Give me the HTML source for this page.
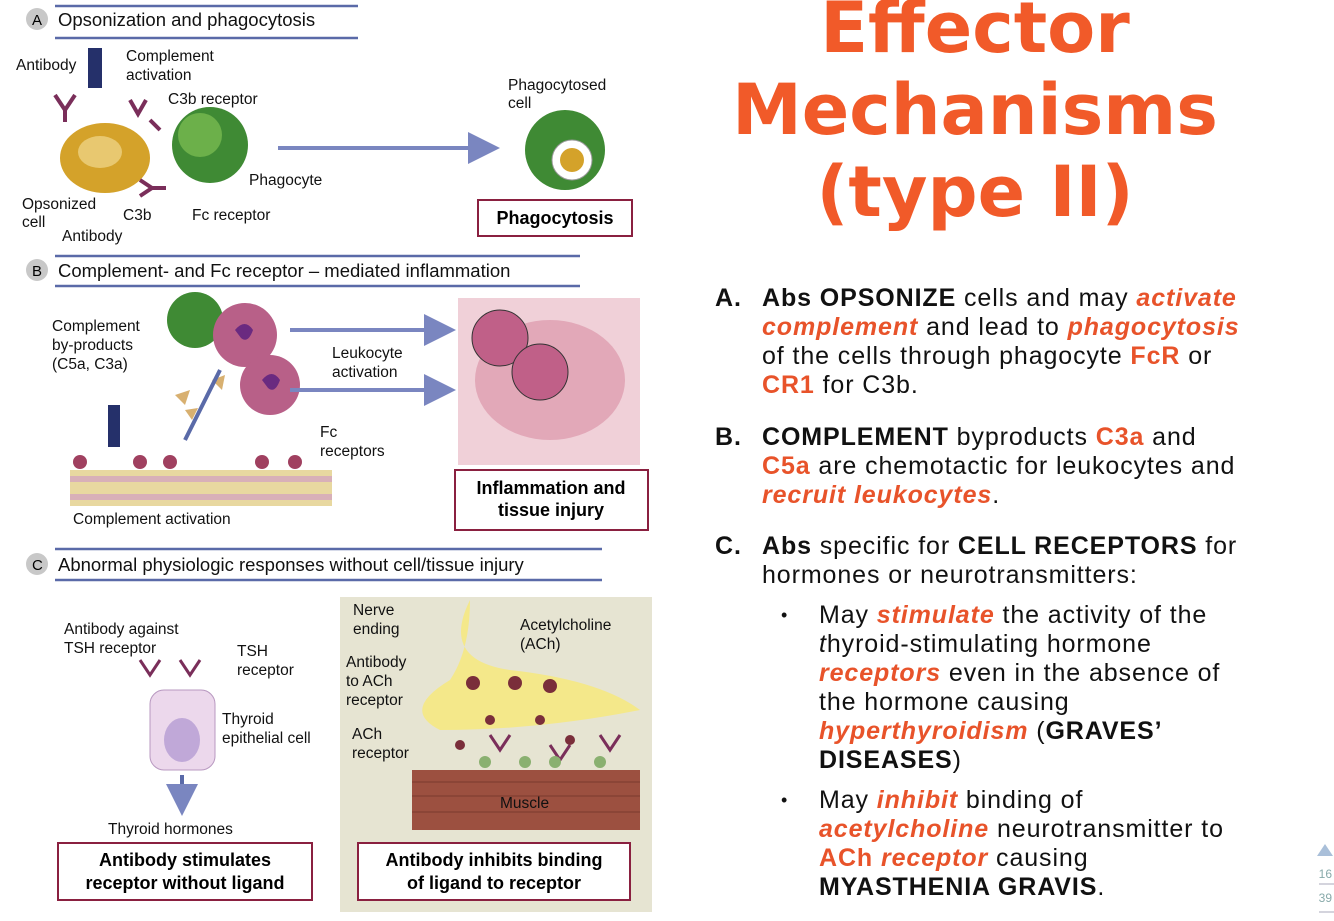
<!DOCTYPE html>
<html><head><meta charset="utf-8"><style>
body{margin:0;width:1334px;height:921px;background:#fff;position:relative;overflow:hidden;font-family:"Liberation Sans",sans-serif}
.title{position:absolute;left:700px;width:550px;text-align:center;color:#f15a29;font-family:"DejaVu Sans","Liberation Sans",sans-serif;font-weight:bold;font-size:70px;line-height:82px;top:-13px}
.l{position:absolute;font-size:25px;letter-spacing:0.9px;line-height:29px;color:#111;white-space:nowrap}
.o{color:#e8532a;font-weight:bold}
.oi{color:#e8532a;font-weight:bold;font-style:italic}
b{font-weight:bold}
svg text{font-family:"Liberation Sans",sans-serif}
</style></head><body>
<div class="title">Effector<br>Mechanisms<br>(type II)</div>

<div class="l" style="left:715px;top:284px"><b>A.</b></div>
<div class="l" style="left:762px;top:284px"><b>Abs OPSONIZE</b> cells and may <span class="oi">activate</span></div>
<div class="l" style="left:762px;top:313px"><span class="oi">complement</span> and lead to <span class="oi">phagocytosis</span></div>
<div class="l" style="left:762px;top:342px">of the cells through phagocyte <span class="o">FcR</span> or</div>
<div class="l" style="left:762px;top:371px"><span class="o">CR1</span> for C3b.</div>

<div class="l" style="left:715px;top:423px"><b>B.</b></div>
<div class="l" style="left:762px;top:423px"><b>COMPLEMENT</b> byproducts <span class="o">C3a</span> and</div>
<div class="l" style="left:762px;top:452px"><span class="o">C5a</span> are chemotactic for leukocytes and</div>
<div class="l" style="left:762px;top:481px"><span class="oi">recruit leukocytes</span>.</div>

<div class="l" style="left:715px;top:532px"><b>C.</b></div>
<div class="l" style="left:762px;top:532px"><b>Abs</b> specific for <b>CELL RECEPTORS</b> for</div>
<div class="l" style="left:762px;top:561px">hormones or neurotransmitters:</div>

<div class="l" style="left:781px;top:601px;font-size:18px">•</div>
<div class="l" style="left:819px;top:601px">May <span class="oi">stimulate</span> the activity of the</div>
<div class="l" style="left:819px;top:630px"><i>t</i>hyroid-stimulating hormone</div>
<div class="l" style="left:819px;top:659px"><span class="oi">receptors</span> even in the absence of</div>
<div class="l" style="left:819px;top:688px">the hormone causing</div>
<div class="l" style="left:819px;top:717px"><span class="oi">hyperthyroidism</span> (<b>GRAVES’</b></div>
<div class="l" style="left:819px;top:746px"><b>DISEASES</b>)</div>
<div class="l" style="left:781px;top:786px;font-size:18px">•</div>
<div class="l" style="left:819px;top:786px">May <span class="oi">inhibit</span> binding of</div>
<div class="l" style="left:819px;top:815px"><span class="oi">acetylcholine</span> neurotransmitter to</div>
<div class="l" style="left:819px;top:844px"><span class="o">ACh</span> <span class="oi">receptor</span> causing</div>
<div class="l" style="left:819px;top:873px"><b>MYASTHENIA GRAVIS</b>.</div>

<svg style="position:absolute;left:1314px;top:840px" width="20" height="81">
<polygon points="3,16 19,16 11,4" fill="#a9bfd9"/>
<text x="18" y="38" font-size="12" fill="#8aa" text-anchor="end">16</text>
<line x1="5" y1="44" x2="20" y2="44" stroke="#aab" />
<text x="18" y="62" font-size="12" fill="#8aa" text-anchor="end">39</text>
<line x1="5" y1="72" x2="20" y2="72" stroke="#aab" />
</svg>

<svg style="position:absolute;left:0;top:0" width="660" height="921" font-size="16">
<defs><marker id="ah" markerWidth="8" markerHeight="8" refX="6" refY="4" orient="auto"><path d="M0,0 L8,4 L0,8 Z" fill="#7a86c0"/></marker></defs>
<g stroke="#5a6aa8" stroke-width="2.5">
<line x1="55" y1="6" x2="358" y2="6"/><line x1="55" y1="38" x2="358" y2="38"/>
<line x1="55" y1="256" x2="580" y2="256"/><line x1="55" y1="286" x2="580" y2="286"/>
<line x1="55" y1="549" x2="602" y2="549"/><line x1="55" y1="580" x2="602" y2="580"/>
</g>
<g fill="#c8c8c8"><circle cx="37" cy="19" r="11"/><circle cx="37" cy="270" r="11"/><circle cx="37" cy="564" r="11"/></g>
<g font-size="15"><text x="32" y="25">A</text><text x="32" y="276">B</text><text x="32" y="570">C</text></g>
<g font-size="18.5" fill="#111">
<text x="58" y="26">Opsonization and phagocytosis</text>
<text x="58" y="277">Complement- and Fc receptor – mediated inflammation</text>
<text x="58" y="571">Abnormal physiologic responses without cell/tissue injury</text>
</g>
<ellipse cx="105" cy="158" rx="45" ry="35" fill="#d4a22a"/>
<ellipse cx="100" cy="152" rx="22" ry="16" fill="#e8c870"/>
<circle cx="210" cy="145" r="38" fill="#3f8a34"/>
<circle cx="200" cy="135" r="22" fill="#6cb04a"/>
<circle cx="565" cy="150" r="40" fill="#3f8a34"/>
<circle cx="572" cy="160" r="20" fill="#fff" stroke="#999"/>
<circle cx="572" cy="160" r="12" fill="#d4a22a"/>
<rect x="88" y="48" width="14" height="40" fill="#25306a"/>
<g stroke="#7a2e5a" stroke-width="4" fill="none">
<path d="M55,95 l10,15 l10,-15 M65,110 v12"/><path d="M130,100 l8,14 l8,-14"/><path d="M140,180 l12,8 l-12,8 M152,188 h14"/><path d="M150,120 l10,10"/>
</g>
<line x1="278" y1="148" x2="492" y2="148" stroke="#7a86c0" stroke-width="4" marker-end="url(#ah)"/>
<g font-size="15.5" fill="#111">
<text x="16" y="70">Antibody</text><text x="126" y="61">Complement</text><text x="126" y="80">activation</text>
<text x="168" y="104">C3b receptor</text><text x="249" y="185">Phagocyte</text>
<text x="22" y="209">Opsonized</text><text x="22" y="227">cell</text><text x="123" y="220">C3b</text>
<text x="62" y="241">Antibody</text><text x="192" y="220">Fc receptor</text>
<text x="508" y="90">Phagocytosed</text><text x="508" y="108">cell</text>
</g>
<rect x="478" y="200" width="154" height="36" fill="#fff" stroke="#8a2040" stroke-width="2"/>
<text x="555" y="224" font-size="18" font-weight="bold" text-anchor="middle">Phagocytosis</text>
<rect x="458" y="298" width="182" height="167" fill="#f0d0d8"/>
<ellipse cx="550" cy="380" rx="75" ry="60" fill="#e2a8b8"/>
<circle cx="500" cy="338" r="28" fill="#c06088" stroke="#333"/><circle cx="540" cy="372" r="28" fill="#c06088" stroke="#333"/>
<circle cx="195" cy="320" r="28" fill="#3f8a34"/>
<circle cx="245" cy="335" r="32" fill="#b86088"/><circle cx="270" cy="385" r="30" fill="#b86088"/>
<path d="M235,330 q10,-12 18,0 q-5,14 -12,8" fill="#6a2a80"/><path d="M262,380 q10,-12 18,0 q-5,14 -12,8" fill="#6a2a80"/>
<rect x="70" y="470" width="262" height="36" fill="#e8d8a0"/>
<rect x="70" y="476" width="262" height="6" fill="#d8b0b8"/><rect x="70" y="494" width="262" height="6" fill="#d8b0b8"/>
<rect x="108" y="405" width="12" height="42" fill="#25306a"/>
<g fill="#a04060"><circle cx="80" cy="462" r="7"/><circle cx="140" cy="462" r="7"/><circle cx="170" cy="462" r="7"/><circle cx="262" cy="462" r="7"/><circle cx="295" cy="462" r="7"/></g>
<g fill="#d8b070"><polygon points="175,395 190,390 185,405"/><polygon points="185,410 198,408 192,420"/><polygon points="212,380 225,375 222,390"/></g>
<line x1="185" y1="440" x2="220" y2="370" stroke="#5a6aa8" stroke-width="4"/>
<line x1="290" y1="330" x2="448" y2="330" stroke="#7a86c0" stroke-width="4" marker-end="url(#ah)"/>
<line x1="290" y1="390" x2="448" y2="390" stroke="#7a86c0" stroke-width="4" marker-end="url(#ah)"/>
<g font-size="15.5" fill="#111">
<text x="52" y="331">Complement</text><text x="52" y="350">by-products</text><text x="52" y="369">(C5a, C3a)</text>
<text x="332" y="358">Leukocyte</text><text x="332" y="377">activation</text>
<text x="320" y="437">Fc</text><text x="320" y="456">receptors</text>
<text x="73" y="524">Complement activation</text>
</g>
<rect x="455" y="470" width="193" height="60" fill="#fff" stroke="#8a2040" stroke-width="2"/>
<text x="551" y="494" font-size="18" font-weight="bold" text-anchor="middle">Inflammation and</text>
<text x="551" y="516" font-size="18" font-weight="bold" text-anchor="middle">tissue injury</text>
<rect x="340" y="597" width="312" height="315" fill="#e6e4d2"/>
<path d="M410,600 h60 q-30,60 40,70 q90,10 130,40 q-100,20 -200,20 q-40,-20 10,-50 q20,-30 20,-80z" fill="#f4e88a"/>
<rect x="412" y="770" width="228" height="60" fill="#9c5040"/>
<g stroke="#7a3a2e"><line x1="412" y1="782" x2="640" y2="782"/><line x1="412" y1="796" x2="640" y2="796"/><line x1="412" y1="812" x2="640" y2="812"/></g>
<g fill="#7a2e3a"><circle cx="473" cy="683" r="7"/><circle cx="515" cy="683" r="7"/><circle cx="550" cy="686" r="7"/><circle cx="490" cy="720" r="5"/><circle cx="540" cy="720" r="5"/><circle cx="460" cy="745" r="5"/><circle cx="570" cy="740" r="5"/></g>
<g stroke="#7a2e5a" stroke-width="3" fill="none"><path d="M490,735 l10,15 l10,-15"/><path d="M550,745 l10,15 l10,-15"/><path d="M600,735 l10,15 l10,-15"/><path d="M140,660 l10,15 l10,-15"/><path d="M180,660 l10,15 l10,-15"/></g>
<g fill="#8ab070"><circle cx="485" cy="762" r="6"/><circle cx="525" cy="762" r="6"/><circle cx="555" cy="762" r="6"/><circle cx="600" cy="762" r="6"/></g>
<rect x="150" y="690" width="65" height="80" rx="14" fill="#ecd8ec" stroke="#b898c0"/>
<ellipse cx="182" cy="740" rx="18" ry="22" fill="#c0a8d8"/>
<line x1="182" y1="775" x2="182" y2="808" stroke="#5a6aa8" stroke-width="4" marker-end="url(#ah)"/>
<g font-size="15.5" fill="#111">
<text x="64" y="634">Antibody against</text><text x="64" y="653">TSH receptor</text>
<text x="237" y="656">TSH</text><text x="237" y="675">receptor</text>
<text x="222" y="724">Thyroid</text><text x="222" y="743">epithelial cell</text>
<text x="108" y="834">Thyroid hormones</text>
<text x="353" y="615">Nerve</text><text x="353" y="634">ending</text>
<text x="520" y="630">Acetylcholine</text><text x="520" y="649">(ACh)</text>
<text x="346" y="667">Antibody</text><text x="346" y="686">to ACh</text><text x="346" y="705">receptor</text>
<text x="352" y="739">ACh</text><text x="352" y="758">receptor</text>
<text x="500" y="808">Muscle</text>
</g>
<rect x="58" y="843" width="254" height="57" fill="#fff" stroke="#8a2040" stroke-width="2"/>
<text x="185" y="866" font-size="18" font-weight="bold" text-anchor="middle">Antibody stimulates</text>
<text x="185" y="889" font-size="18" font-weight="bold" text-anchor="middle">receptor without ligand</text>
<rect x="358" y="843" width="272" height="57" fill="#fff" stroke="#8a2040" stroke-width="2"/>
<text x="494" y="866" font-size="18" font-weight="bold" text-anchor="middle">Antibody inhibits binding</text>
<text x="494" y="889" font-size="18" font-weight="bold" text-anchor="middle">of ligand to receptor</text>
</svg>
</body></html>
